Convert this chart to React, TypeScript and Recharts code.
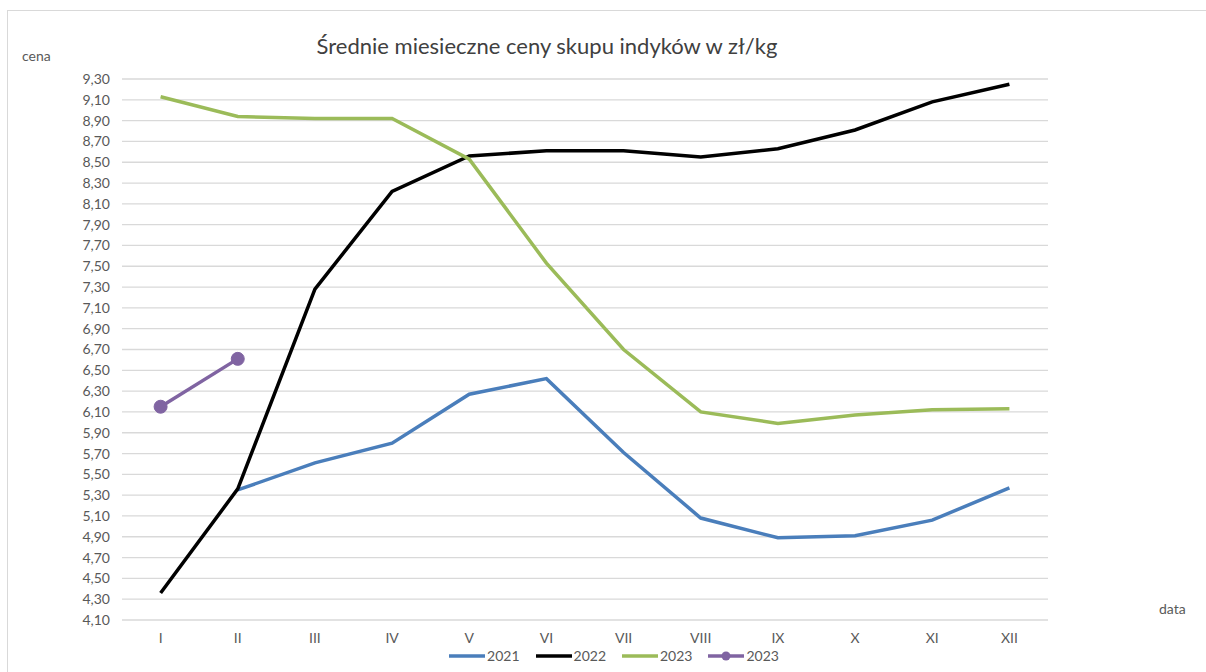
import React from 'react';
import { LineChart, Line, XAxis, YAxis, CartesianGrid } from 'recharts';

const categories = ['I', 'II', 'III', 'IV', 'V', 'VI', 'VII', 'VIII', 'IX', 'X', 'XI', 'XII'];
const s2021: (number | null)[] = [null, 5.35, 5.61, 5.8, 6.27, 6.42, 5.71, 5.08, 4.89, 4.91, 5.06, 5.37];
const s2022: (number | null)[] = [4.36, 5.36, 7.28, 8.22, 8.56, 8.61, 8.61, 8.55, 8.63, 8.81, 9.08, 9.25];
const s2023: (number | null)[] = [9.13, 8.94, 8.92, 8.92, 8.53, 7.53, 6.7, 6.1, 5.99, 6.07, 6.12, 6.13];
const s2023b: (number | null)[] = [6.15, 6.61, null, null, null, null, null, null, null, null, null, null];
const yTicks = [4.1, 4.3, 4.5, 4.7, 4.9, 5.1, 5.3, 5.5, 5.7, 5.9, 6.1, 6.3, 6.5, 6.7, 6.9, 7.1, 7.3, 7.5, 7.7, 7.9, 8.1, 8.3, 8.5, 8.7, 8.9, 9.1, 9.3];
const legendItems = [
  { label: '2021', color: '#4a7ebb', dot: false },
  { label: '2022', color: '#000000', dot: false },
  { label: '2023', color: '#9bbb59', dot: false },
  { label: '2023', color: '#8064a2', dot: true },
];

const data = categories.map((c, i) => ({ cat: c, a: s2021[i], b: s2022[i], c: s2023[i], d: s2023b[i] }));

const FONT = 'Lato, "Open Sans", sans-serif';
const fmt = (v: number) => v.toFixed(2).replace('.', ',');

export default function App() {
  return (
    <div style={{ position: 'absolute', left: 0, top: 0, width: 1206, height: 672, overflow: 'hidden', background: '#fff', fontFamily: FONT }}>
      <div style={{ position: 'absolute', left: 7, top: 10, width: 1300, height: 800, border: '1px solid #d9d9d9', boxSizing: 'border-box' }} />
      <LineChart width={1206} height={672} data={data} margin={{ top: 79, right: 158, left: 0, bottom: 22 }}>
        <CartesianGrid horizontal vertical={false} stroke="#d9d9d9" strokeWidth={1.3} />
        <XAxis dataKey="cat" axisLine={false} tickLine={false} height={30} tickMargin={7}
          padding={{ left: 38.6, right: 38.6 }}
          tick={{ fill: '#595959', fontSize: 14, fontFamily: FONT }} interval={0} />
        <YAxis type="number" domain={[4.1, 9.3]} ticks={yTicks} width={122} axisLine={false} tickLine={false}
          tickMargin={6} tickFormatter={fmt} interval={0}
          tick={{ fill: '#595959', fontSize: 14, fontFamily: FONT }} />
        <Line dataKey="a" stroke="#4a7ebb" strokeWidth={3.5} dot={false} isAnimationActive={false} connectNulls={false} />
        <Line dataKey="b" stroke="#000000" strokeWidth={3.5} dot={false} isAnimationActive={false} />
        <Line dataKey="c" stroke="#9bbb59" strokeWidth={3.5} dot={false} isAnimationActive={false} />
        <Line dataKey="d" stroke="#8064a2" strokeWidth={3.5} dot={{ r: 6.5, fill: '#8064a2', stroke: '#8064a2', strokeWidth: 1 }} isAnimationActive={false} />
      </LineChart>
      <div style={{ position: 'absolute', left: 0, width: 1094, top: 32, textAlign: 'center', fontSize: 22, color: '#404040' }}>
        Średnie miesieczne ceny skupu indyków w zł/kg
      </div>
      <div style={{ position: 'absolute', left: 22, top: 47, fontSize: 14, color: '#595959' }}>cena</div>
      <div style={{ position: 'absolute', left: 1159, top: 600, fontSize: 14, color: '#595959' }}>data</div>
      <div style={{ position: 'absolute', left: 0, width: 1228, top: 647, display: 'flex', justifyContent: 'center', gap: 16, fontSize: 14, color: '#595959' }}>
        {legendItems.map((it, i) => (
          <div key={i} style={{ display: 'flex', alignItems: 'center' }}>
            <svg width={36} height={12} style={{ marginRight: 2 }}>
              <line x1={0} y1={6} x2={36} y2={6} stroke={it.color} strokeWidth={3.5} />
              {it.dot && <circle cx={18} cy={6} r={4.5} fill={it.color} />}
            </svg>
            <span>{it.label}</span>
          </div>
        ))}
      </div>
    </div>
  );
}
